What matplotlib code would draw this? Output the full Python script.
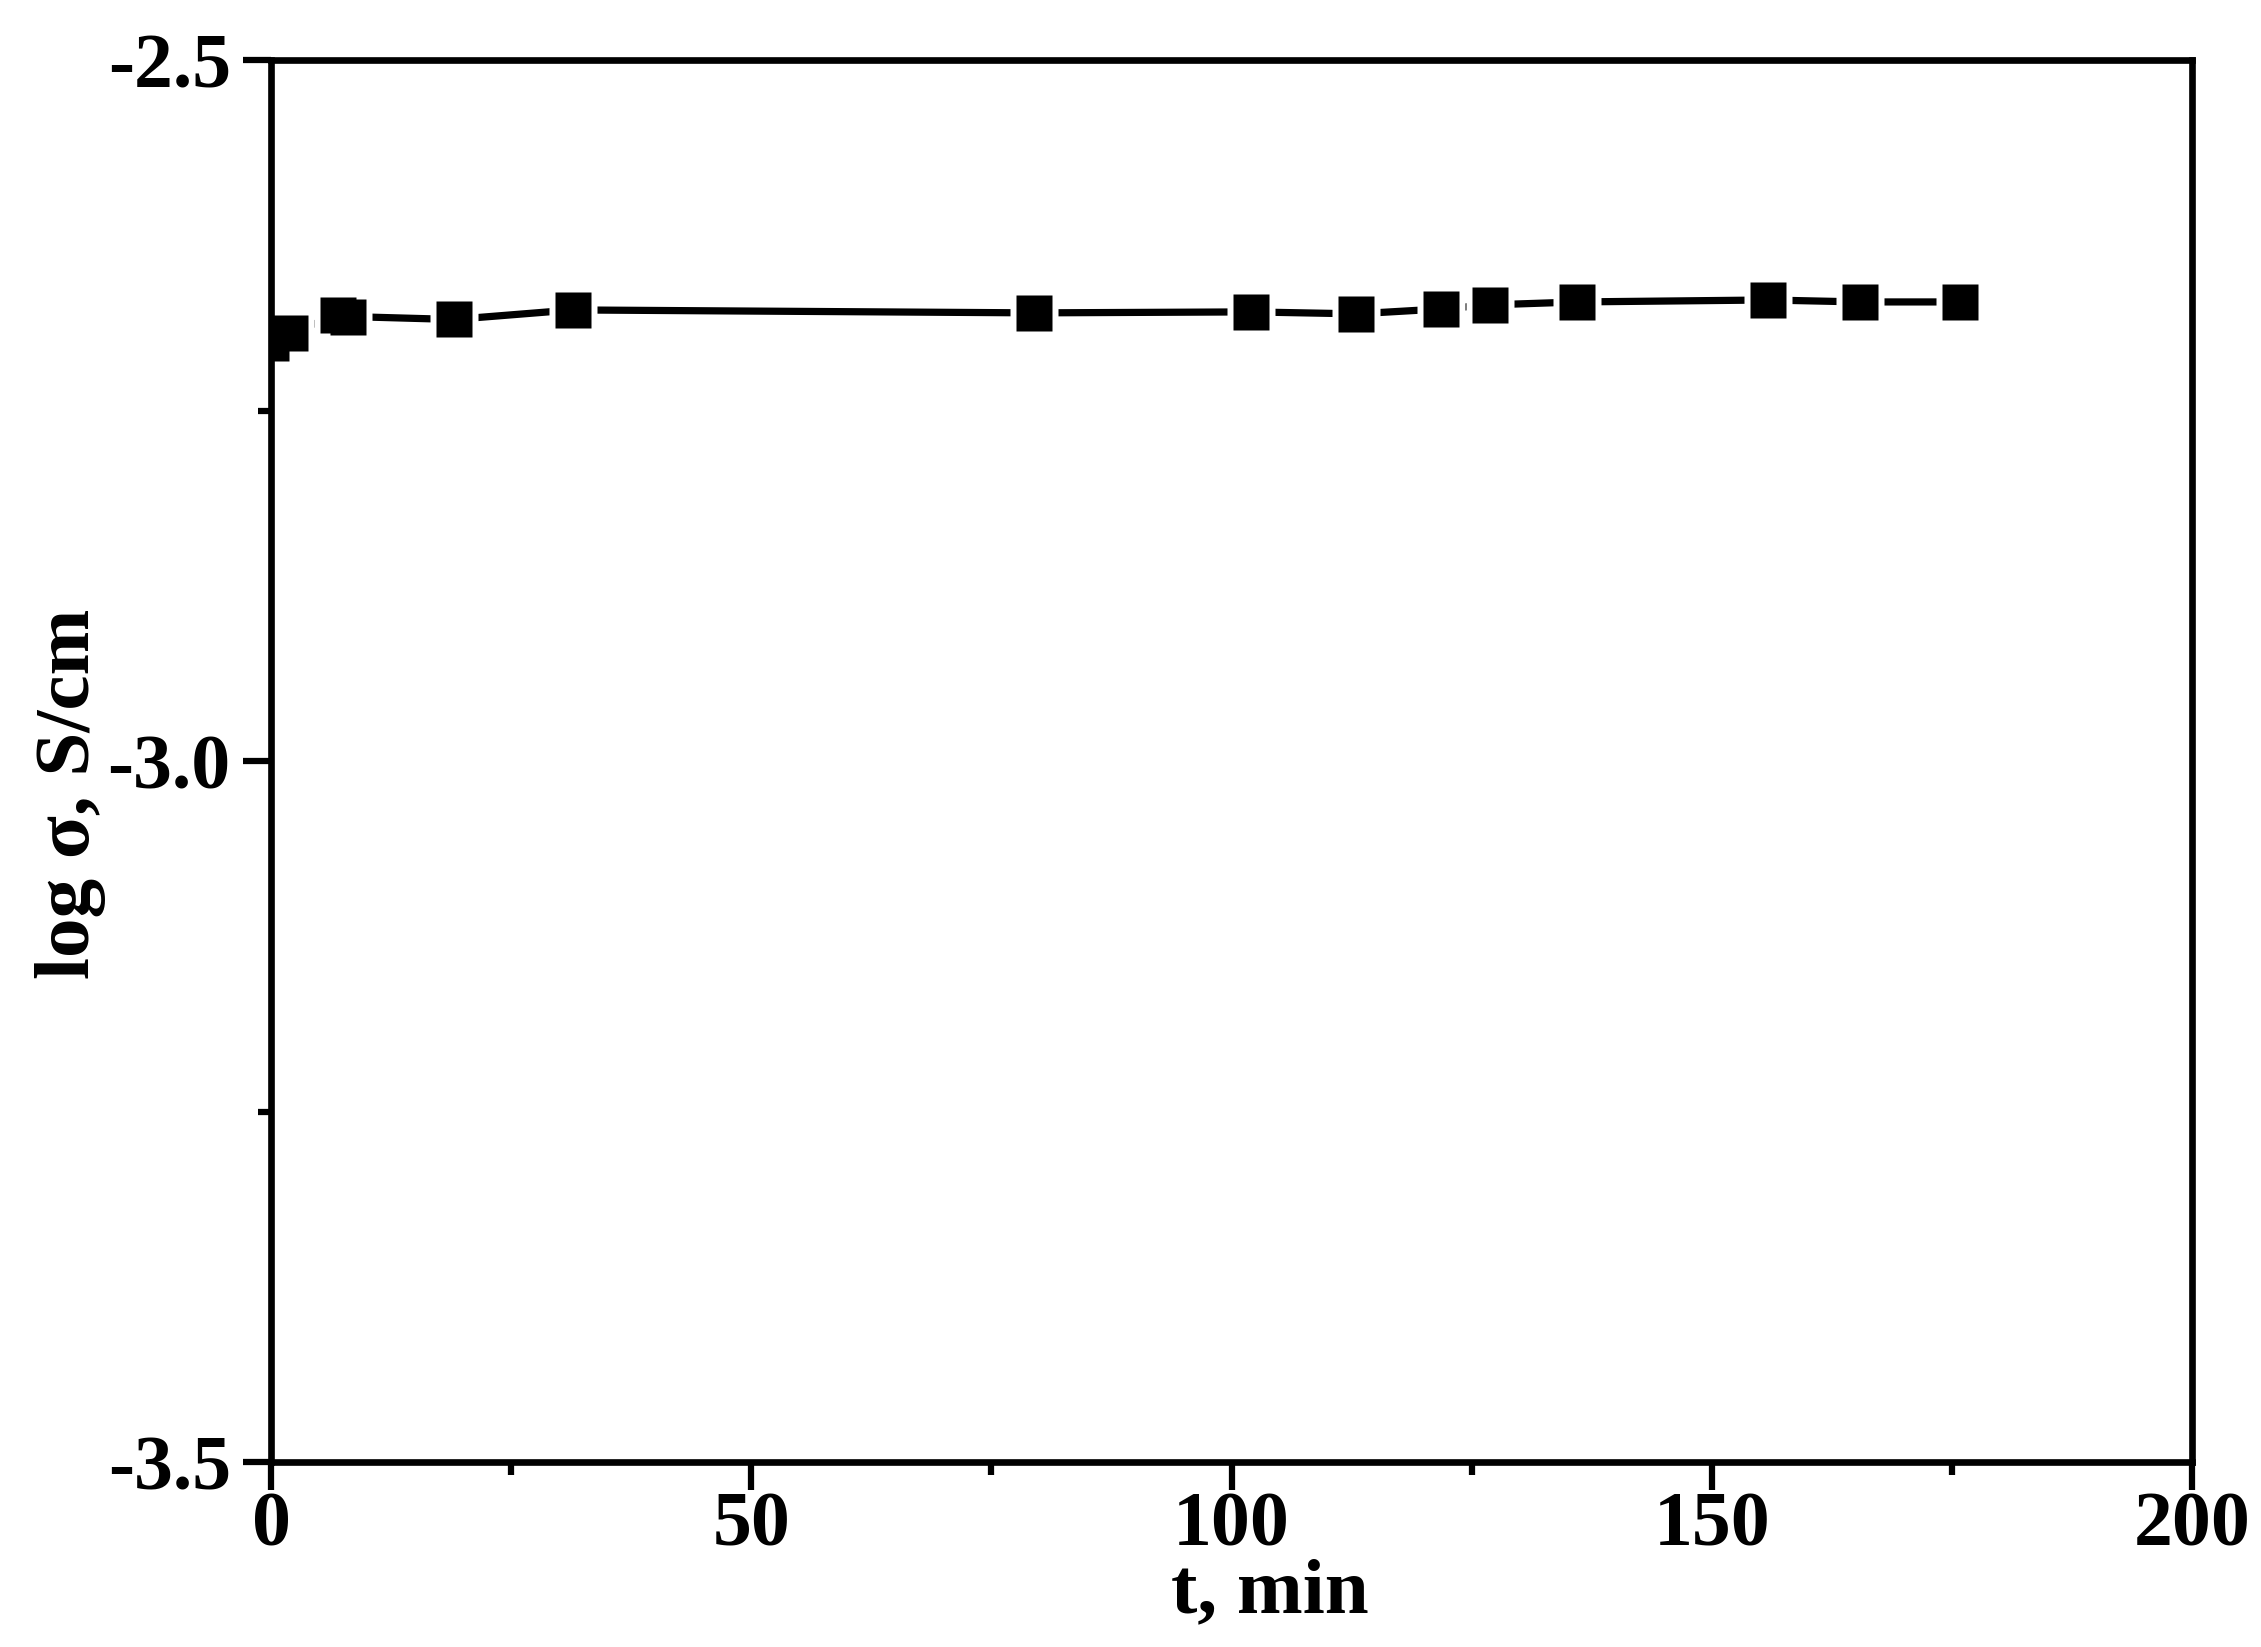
import matplotlib.pyplot as plt
from matplotlib.ticker import MultipleLocator

plt.rcParams['font.family'] = ['Liberation Serif', 'DejaVu Serif']
plt.rcParams['font.weight'] = 'bold'
plt.rcParams['axes.unicode_minus'] = False

# time (min) and log conductivity (S/cm)
t_min = [0, 2, 7, 8, 19, 31.4, 79.4, 102, 113, 121.8, 126.9, 136, 155.9, 165.4, 175.8]
log_sigma = [-2.7013, -2.6944, -2.6815, -2.6827, -2.6848, -2.6780, -2.6801, -2.6794,
             -2.6808, -2.6773, -2.6744, -2.6723, -2.6709, -2.6723, -2.6723]

x_ticks = [0, 50, 100, 150, 200]
y_ticks = [-3.5, -3.0, -2.5]

fig = plt.figure(figsize=(22.61, 16.47), dpi=100)
ax = fig.add_axes([0.1199, 0.1123, 0.8496, 0.8510])

# line first, then white squares to leave a gap, then the black squares
ax.plot(t_min, log_sigma, color='black', lw=5.2, zorder=2)
ax.plot(t_min, log_sigma, ls='none', marker='s', ms=34, mfc='white', mec='none', zorder=2.1)
ax.plot(t_min, log_sigma, ls='none', marker='s', ms=26, mfc='black', mec='none', zorder=2.2)

ax.set_xlim(0, 200)
ax.set_ylim(-3.5, -2.5)
ax.set_xticks(x_ticks)
ax.set_xticklabels([str(v) for v in x_ticks])
ax.set_yticks(y_ticks)
ax.set_yticklabels(['%.1f' % v for v in y_ticks])
ax.xaxis.set_minor_locator(MultipleLocator(25))
ax.yaxis.set_minor_locator(MultipleLocator(0.25))

for s in ax.spines.values():
    s.set_linewidth(4.8)

ax.tick_params(which='major', direction='out', length=20, width=4.5, labelsize=56)
ax.tick_params(which='minor', direction='out', length=9.5, width=4.5)
ax.tick_params(axis='x', which='major', pad=1)
ax.tick_params(axis='y', which='major', pad=9)
ax.tick_params(top=False, right=False, which='both')

ax.set_xlabel('t, min', fontsize=57, fontweight='bold')
ax.set_ylabel('log σ, S/cm', fontsize=57, fontweight='bold')
ax.xaxis.set_label_coords(0.52, -0.069)
ax.yaxis.set_label_coords(-0.086, 0.477)

fig.savefig('out.png', dpi=100)
